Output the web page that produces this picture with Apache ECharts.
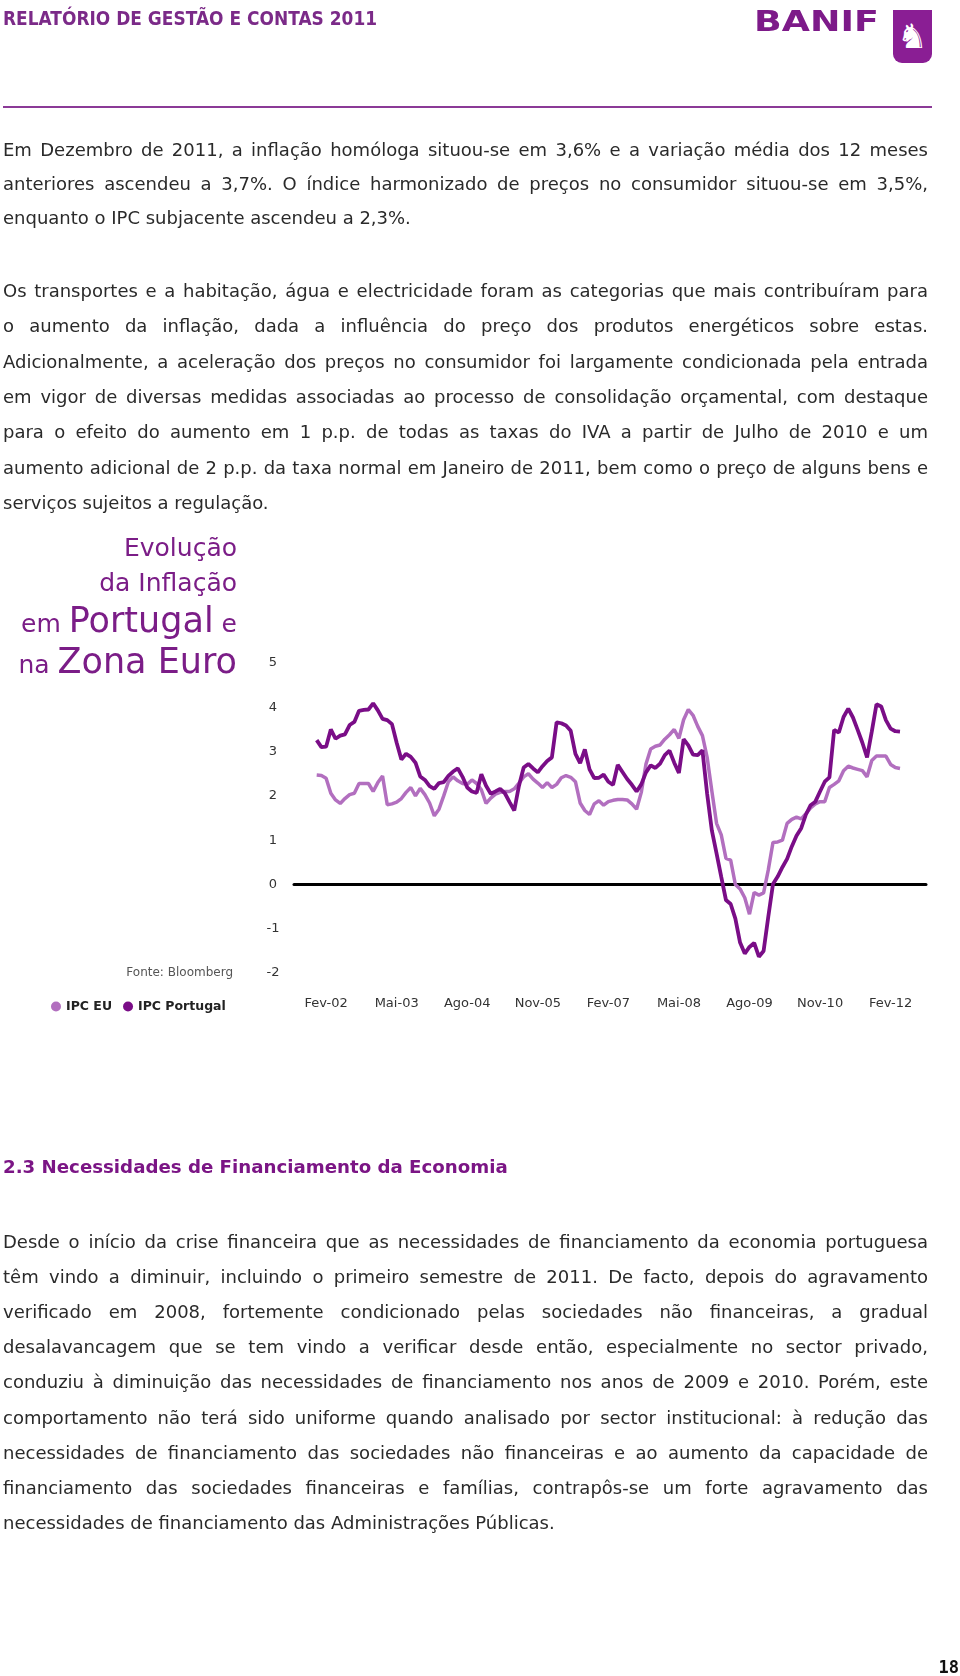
<!DOCTYPE html>
<html>
<head>
<meta charset="utf-8">
<script src="https://cdn.jsdelivr.net/npm/echarts@6/dist/echarts.min.js"></script>
<style>
  html, body { margin:0; padding:0; background:#fff; }
  body { width:960px; height:1676px; position:relative; overflow:hidden; font-family:'DejaVu Sans', sans-serif; }
  #chart { position:absolute; left:0; top:0; width:960px; height:1676px; z-index:0; }
  .abs { position:absolute; z-index:1; }
  .hdr { left:3px; top:7px; font-size:20px; line-height:22px; font-weight:bold; color:#7b2a88; white-space:nowrap; transform:scaleX(0.85); transform-origin:left center; }
  .banif { left:754px; top:6px; font-size:28px; line-height:32px; font-weight:bold; color:#7d1a89; white-space:nowrap; transform:scaleX(1.3); transform-origin:left center; }
  .icon { left:893px; top:10px; width:39px; height:53px; background:#8a1e94; border-radius:0 0 9px 9px; color:#fff; font-size:34px; line-height:53px; text-align:center; }
  .rule { left:3px; top:106px; width:929px; height:2px; background:#8b3a97; }
  .p { left:3px; width:925px; font-size:18px; color:#2a2a2a; }
  .p div { text-align:justify; text-align-last:justify; }
  .p div.last { text-align-last:left; }
  .ttl { left:0; width:237px; text-align:right; color:#7b1d87; white-space:nowrap; }
  .sm { font-size:25px; line-height:1; }
  .sec { left:3px; top:1155px; font-size:18.2px; line-height:24px; font-weight:bold; color:#7b1585; white-space:nowrap; }
  .pg { left:900px; width:59px; top:1656px; text-align:right; font-family:'DejaVu Sans Mono', monospace; font-weight:bold; font-size:17px; line-height:22px; color:#111; }
</style>
</head>
<body>
<div id="chart"></div>

<div class="abs hdr">RELATÓRIO DE GESTÃO E CONTAS 2011</div>
<div class="abs banif">BANIF</div>
<div class="abs icon">♞</div>
<div class="abs rule"></div>

<div class="abs p" style="top:132.6px; line-height:34.2px;">
  <div>Em Dezembro de 2011, a inflação homóloga situou-se em 3,6% e a variação média dos 12 meses</div>
  <div>anteriores ascendeu a 3,7%. O índice harmonizado de preços no consumidor situou-se em 3,5%,</div>
  <div class="last">enquanto o IPC subjacente ascendeu a 2,3%.</div>
</div>

<div class="abs p" style="top:273.2px; line-height:35.3px;">
  <div>Os transportes e a habitação, água e electricidade foram as categorias que mais contribuíram para</div>
  <div>o aumento da inflação, dada a influência do preço dos produtos energéticos sobre estas.</div>
  <div>Adicionalmente, a aceleração dos preços no consumidor foi largamente condicionada pela entrada</div>
  <div>em vigor de diversas medidas associadas ao processo de consolidação orçamental, com destaque</div>
  <div>para o efeito do aumento em 1 p.p. de todas as taxas do IVA a partir de Julho de 2010 e um</div>
  <div>aumento adicional de 2 p.p. da taxa normal em Janeiro de 2011, bem como o preço de alguns bens e</div>
  <div class="last">serviços sujeitos a regulação.</div>
</div>

<div class="abs ttl" style="top:533px; font-size:25px; line-height:30px;">Evolução</div>
<div class="abs ttl" style="top:568px; font-size:25px; line-height:30px;">da Inflação</div>
<div class="abs ttl" style="top:598.6px; font-size:35px; line-height:42px;"><span class="sm">em </span>Portugal<span class="sm"> e</span></div>
<div class="abs ttl" style="top:640.2px; font-size:35px; line-height:42px;"><span class="sm">na </span>Zona Euro</div>

<div class="abs sec">2.3 Necessidades de Financiamento da Economia</div>

<div class="abs p" style="top:1223.5px; line-height:35.2px;">
  <div>Desde o início da crise financeira que as necessidades de financiamento da economia portuguesa</div>
  <div>têm vindo a diminuir, incluindo o primeiro semestre de 2011. De facto, depois do agravamento</div>
  <div>verificado em 2008, fortemente condicionado pelas sociedades não financeiras, a gradual</div>
  <div>desalavancagem que se tem vindo a verificar desde então, especialmente no sector privado,</div>
  <div>conduziu à diminuição das necessidades de financiamento nos anos de 2009 e 2010. Porém, este</div>
  <div>comportamento não terá sido uniforme quando analisado por sector institucional: à redução das</div>
  <div>necessidades de financiamento das sociedades não financeiras e ao aumento da capacidade de</div>
  <div>financiamento das sociedades financeiras e famílias, contrapôs-se um forte agravamento das</div>
  <div class="last">necessidades de financiamento das Administrações Públicas.</div>
</div>

<div class="abs pg">18</div>

<script>
// Monthly categories (Dez-01 .. Abr-12)
const categories = [
  'Dez-01',
  'Jan-02','Fev-02','Mar-02','Abr-02','Mai-02','Jun-02','Jul-02','Ago-02','Set-02','Out-02','Nov-02','Dez-02',
  'Jan-03','Fev-03','Mar-03','Abr-03','Mai-03','Jun-03','Jul-03','Ago-03','Set-03','Out-03','Nov-03','Dez-03',
  'Jan-04','Fev-04','Mar-04','Abr-04','Mai-04','Jun-04','Jul-04','Ago-04','Set-04','Out-04','Nov-04','Dez-04',
  'Jan-05','Fev-05','Mar-05','Abr-05','Mai-05','Jun-05','Jul-05','Ago-05','Set-05','Out-05','Nov-05','Dez-05',
  'Jan-06','Fev-06','Mar-06','Abr-06','Mai-06','Jun-06','Jul-06','Ago-06','Set-06','Out-06','Nov-06','Dez-06',
  'Jan-07','Fev-07','Mar-07','Abr-07','Mai-07','Jun-07','Jul-07','Ago-07','Set-07','Out-07','Nov-07','Dez-07',
  'Jan-08','Fev-08','Mar-08','Abr-08','Mai-08','Jun-08','Jul-08','Ago-08','Set-08','Out-08','Nov-08','Dez-08',
  'Jan-09','Fev-09','Mar-09','Abr-09','Mai-09','Jun-09','Jul-09','Ago-09','Set-09','Out-09','Nov-09','Dez-09',
  'Jan-10','Fev-10','Mar-10','Abr-10','Mai-10','Jun-10','Jul-10','Ago-10','Set-10','Out-10','Nov-10','Dez-10',
  'Jan-11','Fev-11','Mar-11','Abr-11','Mai-11','Jun-11','Jul-11','Ago-11','Set-11','Out-11','Nov-11','Dez-11',
  'Jan-12','Fev-12','Mar-12','Abr-12'
];

// Tick labels shown on the x axis (every 15 months from Fev-02)
const tickLabels = ['Fev-02','Mai-03','Ago-04','Nov-05','Fev-07','Mai-08','Ago-09','Nov-10','Fev-12'];

// IPC EU (%)
const ipcEU = [
  2.47,2.46,2.40,2.06,1.91,1.83,1.94,2.03,2.06,2.28,
  2.28,2.28,2.10,2.30,2.45,1.80,1.82,1.86,1.94,2.08,
  2.19,2.00,2.17,2.03,1.84,1.55,1.70,2.00,2.32,2.43,
  2.34,2.28,2.26,2.36,2.28,2.14,1.83,1.95,2.04,2.08,
  2.10,2.10,2.16,2.29,2.43,2.50,2.38,2.29,2.19,2.30,
  2.19,2.26,2.41,2.46,2.42,2.32,1.84,1.67,1.58,1.82,
  1.89,1.79,1.87,1.90,1.92,1.92,1.91,1.82,1.70,2.08,
  2.72,3.06,3.12,3.15,3.28,3.38,3.50,3.30,3.72,3.95,
  3.82,3.57,3.36,2.87,2.11,1.38,1.12,0.59,0.55,0.00,
  -0.10,-0.30,-0.67,-0.18,-0.24,-0.19,0.33,0.95,0.96,1.00,
  1.38,1.47,1.52,1.48,1.60,1.73,1.82,1.87,1.87,2.19,
  2.26,2.34,2.57,2.67,2.63,2.60,2.57,2.43,2.80,2.90,
  2.90,2.90,2.71,2.64,2.62
];

// IPC Portugal (%)
const ipcPortugal = [
  3.26,3.10,3.11,3.50,3.29,3.36,3.39,3.60,3.67,3.92,
  3.94,3.95,4.09,3.93,3.74,3.71,3.62,3.20,2.82,2.95,
  2.88,2.75,2.44,2.36,2.22,2.16,2.29,2.31,2.45,2.55,
  2.62,2.43,2.19,2.10,2.07,2.49,2.23,2.05,2.10,2.16,
  2.06,1.86,1.67,2.23,2.64,2.72,2.62,2.53,2.67,2.79,
  2.87,3.66,3.64,3.59,3.47,2.95,2.74,3.05,2.60,2.40,
  2.41,2.48,2.32,2.25,2.70,2.54,2.38,2.25,2.10,2.26,
  2.53,2.69,2.63,2.73,2.92,3.02,2.75,2.52,3.28,3.14,
  2.93,2.92,3.03,2.05,1.22,0.70,0.17,-0.35,-0.44,-0.77,
  -1.31,-1.56,-1.41,-1.32,-1.63,-1.50,-0.73,0.01,0.18,0.39,
  0.58,0.86,1.10,1.27,1.58,1.79,1.87,2.10,2.32,2.42,
  3.49,3.43,3.78,3.97,3.77,3.49,3.20,2.87,3.45,4.07,
  4.02,3.71,3.52,3.46,3.45
];

const yMin = -2, yMax = 5, yStep = 1;
const FONT = 'DejaVu Sans';

const chart = echarts.init(document.getElementById('chart'), null, { renderer: 'canvas' });
chart.setOption({
  animation: false,
  backgroundColor: 'transparent',
  grid: [
    { left: 316.7, right: 60, top: 663, bottom: 702.9 },
    { left: 294, right: 34, top: 663, bottom: 702.9 }
  ],
  legend: {
    left: 46, top: 995,
    icon: 'circle', itemWidth: 10, itemHeight: 10, itemGap: 11,
    textStyle: { fontFamily: FONT, fontSize: 12.5, fontWeight: 'bold', color: '#222' },
    data: ['IPC EU', 'IPC Portugal']
  },
  graphic: [
    { type: 'text', x: 233, y: 973,
      style: { text: 'Fonte: Bloomberg', textAlign: 'right', textVerticalAlign: 'middle',
               fontFamily: FONT, fontSize: 12, fill: '#555' } }
  ],
  xAxis: [
    { gridIndex: 0, type: 'category', data: categories, boundaryGap: false,
      axisLine: { show: false, onZero: false }, axisTick: { show: false }, splitLine: { show: false },
      axisLabel: {
        margin: 24, fontFamily: FONT, fontSize: 13, color: '#333',
        interval: function (index, value) { return tickLabels.indexOf(value) !== -1 && index % 15 === 2; }
      }
    },
    { gridIndex: 1, type: 'value', min: 0, max: 1,
      axisLine: { show: true, onZero: true, lineStyle: { color: '#000', width: 3 } },
      axisTick: { show: false }, axisLabel: { show: false }, splitLine: { show: false } }
  ],
  yAxis: [
    { gridIndex: 0, type: 'value', min: yMin, max: yMax, interval: yStep, show: false, splitLine: { show: false } },
    { gridIndex: 1, type: 'value', min: yMin, max: yMax, interval: yStep,
      axisLine: { show: false }, axisTick: { show: false }, splitLine: { show: false },
      axisLabel: { align: 'center', margin: 21, fontFamily: FONT, fontSize: 13, color: '#333' } }
  ],
  series: [
    { name: 'IPC EU', type: 'line', xAxisIndex: 0, yAxisIndex: 0, data: ipcEU,
      symbol: 'none', color: '#b26fbf', lineStyle: { width: 3.5, color: '#b26fbf' } },
    { name: 'IPC Portugal', type: 'line', xAxisIndex: 0, yAxisIndex: 0, data: ipcPortugal,
      symbol: 'none', color: '#7a0d87', lineStyle: { width: 3.8, color: '#7a0d87' } }
  ]
});
</script>
</body>
</html>
